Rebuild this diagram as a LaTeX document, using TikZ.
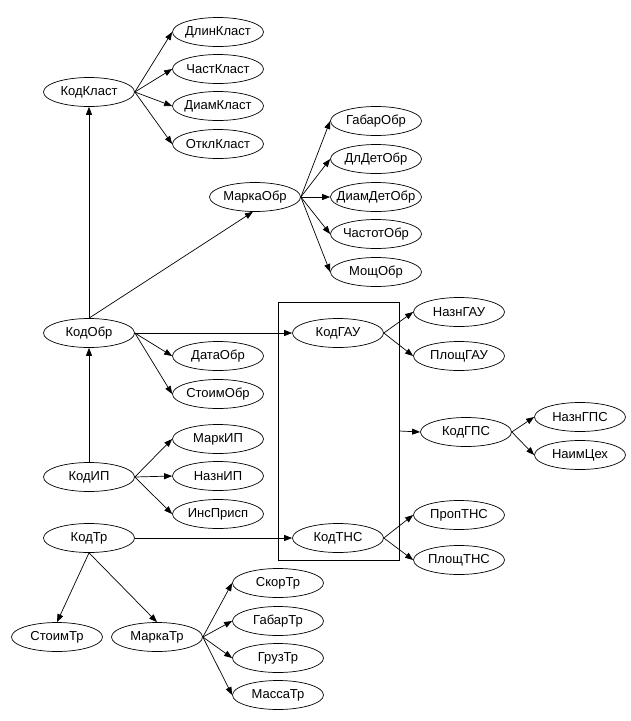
\documentclass[tikz,border=0pt]{standalone}
\usepackage{fontspec}
\setmainfont{Liberation Sans}
\usetikzlibrary{shapes.geometric,arrows.meta}

\begin{document}
\begin{tikzpicture}[x=1pt, y=-1pt,
    attr/.style={draw, ellipse, line width=0.7pt, minimum width=91pt, minimum height=29pt,
                 inner xsep=-12pt, inner ysep=0pt, font=\fontsize{13}{15}\selectfont},
    link/.style={line width=0.7pt, -{Triangle[length=8pt,width=6pt]}}]
    \useasboundingbox (0,0) rectangle (631,721);

    \node[draw, line width=0.7pt, minimum width=121pt, minimum height=258pt, inner sep=0pt] (gruppa) at (338.5,431) {};

    \node[attr] (kodklast) at (89,92) {КодКласт};
    \node[attr] (dlinklast) at (218,32) {ДлинКласт};
    \node[attr] (chastklast) at (218,69) {ЧастКласт};
    \node[attr] (diamklast) at (218,106) {ДиамКласт};
    \node[attr] (otklklast) at (218,144) {ОтклКласт};

    \node[attr] (markaobr) at (255,197) {МаркаОбр};
    \node[attr] (gabarobr) at (376,121) {ГабарОбр};
    \node[attr] (dldetobr) at (376,159) {ДлДетОбр};
    \node[attr] (diamdetobr) at (376,197) {ДиамДетОбр};
    \node[attr] (chastotobr) at (376,234) {ЧастотОбр};
    \node[attr] (moshobr) at (376,272) {МощОбр};

    \node[attr] (kodobr) at (89,333) {КодОбр};
    \node[attr] (dataobr) at (218,356) {ДатаОбр};
    \node[attr] (stoimobr) at (218,394) {СтоимОбр};

    \node[attr] (kodip) at (89,477) {КодИП};
    \node[attr] (markip) at (218,439) {МаркИП};
    \node[attr] (naznip) at (218,476) {НазнИП};
    \node[attr] (insprisp) at (218,514) {ИнсПрисп};

    \node[attr] (kodtr) at (89,538) {КодТр};
    \node[attr] (stoimtr) at (57,637) {СтоимТр};
    \node[attr] (markatr) at (157,637) {МаркаТр};
    \node[attr] (skortr) at (278,583) {СкорТр};
    \node[attr] (gabartr) at (278,621) {ГабарТр};
    \node[attr] (gruztr) at (278,658) {ГрузТр};
    \node[attr] (massatr) at (278,695) {МассаТр};

    \node[attr] (kodgau) at (338,333) {КодГАУ};
    \node[attr] (kodtns) at (338,538) {КодТНС};
    \node[attr] (nazngau) at (459,312) {НазнГАУ};
    \node[attr] (ploshgau) at (459,356) {ПлощГАУ};
    \node[attr] (proptns) at (459,515) {ПропТНС};
    \node[attr] (ploshtns) at (459,560) {ПлощТНС};

    \node[attr] (kodgps) at (466,432) {КодГПС};
    \node[attr] (nazngps) at (580,417) {НазнГПС};
    \node[attr] (naimceh) at (580,455) {НаимЦех};

    % cluster keys
    \draw[link] (kodklast.east) -- (dlinklast.west);
    \draw[link] (kodklast.east) -- (chastklast.west);
    \draw[link] (kodklast.east) -- (diamklast.west);
    \draw[link] (kodklast.east) -- (otklklast.west);

    \draw[link] (markaobr.east) -- (gabarobr.west);
    \draw[link] (markaobr.east) -- (dldetobr.west);
    \draw[link] (markaobr.east) -- (diamdetobr.west);
    \draw[link] (markaobr.east) -- (chastotobr.west);
    \draw[link] (markaobr.east) -- (moshobr.west);

    \draw[link] (kodobr.north) -- (kodklast.south);
    \draw[link] (kodobr.north) -- (markaobr.262);
    \draw[link] (kodobr.east) -- (kodgau.west);
    \draw[link] (kodobr.east) -- (dataobr.west);
    \draw[link] (kodobr.east) -- (stoimobr.west);

    \draw[link] (kodip.north) -- (kodobr.south);
    \draw[link] (kodip.east) -- (markip.west);
    \draw[link] (kodip.east) -- (naznip.west);
    \draw[link] (kodip.east) -- (insprisp.west);

    \draw[link] (kodtr.east) -- (kodtns.west);
    \draw[link] (kodtr.south) -- (stoimtr.north);
    \draw[link] (kodtr.south) -- (markatr.north);
    \draw[link] (markatr.east) -- (skortr.west);
    \draw[link] (markatr.east) -- (gabartr.west);
    \draw[link] (markatr.east) -- (gruztr.west);
    \draw[link] (markatr.east) -- (massatr.west);

    \draw[link] (kodgau.east) -- (nazngau.west);
    \draw[link] (kodgau.east) -- (ploshgau.west);
    \draw[link] (kodtns.east) -- (proptns.west);
    \draw[link] (kodtns.east) -- (ploshtns.west);

    \draw[link] (gruppa.east) -- (kodgps.west);
    \draw[link] (kodgps.east) -- (nazngps.west);
    \draw[link] (kodgps.east) -- (naimceh.west);
\end{tikzpicture}
\end{document}
